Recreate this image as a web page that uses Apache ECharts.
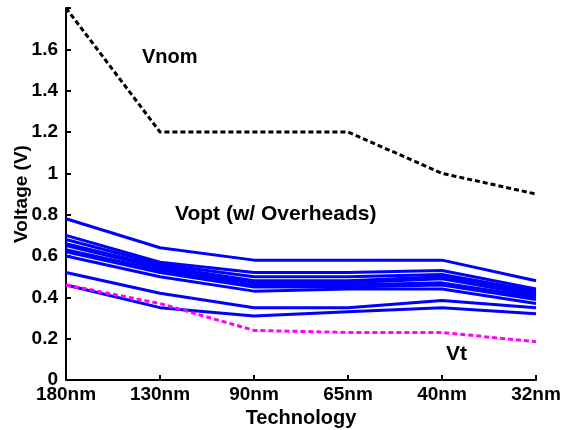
<!DOCTYPE html>
<html><head><meta charset="utf-8">
<script src="https://cdn.jsdelivr.net/npm/echarts@6/dist/echarts.min.js"></script>
<style>html,body{margin:0;padding:0;background:#fff}#c{width:564px;height:430px}</style>
</head><body><div id="c"></div>
<script>
var categories = ['180nm','130nm','90nm','65nm','40nm','32nm'];
var vnom = [1.8, 1.2, 1.2, 1.2, 1.0, 0.9];
var vt = [0.46, 0.37, 0.24, 0.23, 0.23, 0.185];
var vopt1 = [0.78, 0.64, 0.58, 0.58, 0.58, 0.48];
var vopt2 = [0.70, 0.57, 0.52, 0.52, 0.53, 0.44];
var vopt3 = [0.68, 0.56, 0.50, 0.50, 0.51, 0.43];
var vopt4 = [0.66, 0.55, 0.48, 0.48, 0.50, 0.42];
var vopt5 = [0.65, 0.54, 0.47, 0.47, 0.49, 0.41];
var vopt6 = [0.63, 0.53, 0.46, 0.46, 0.47, 0.40];
var vopt7 = [0.62, 0.52, 0.45, 0.45, 0.46, 0.39];
var vopt8 = [0.60, 0.50, 0.43, 0.44, 0.44, 0.37];
var vopt9 = [0.52, 0.42, 0.35, 0.35, 0.385, 0.35];
var vopt10 = [0.46, 0.35, 0.31, 0.33, 0.35, 0.32];
var voptAll = [vopt1, vopt2, vopt3, vopt4, vopt5, vopt6, vopt7, vopt8, vopt9, vopt10];

var font = 'Liberation Sans, Arial, sans-serif';
var chart = echarts.init(document.getElementById('c'), null, {renderer: 'canvas'});
var series = voptAll.map(function (d) {
  return {type: 'line', data: d, symbol: 'none', silent: true,
    lineStyle: {color: '#0000ff', width: 3}};
});
series.push({type: 'line', data: vnom, symbol: 'none', silent: true,
  lineStyle: {color: '#000000', width: 3, type: [5, 3]}});
series.push({type: 'line', data: vt, symbol: 'none', silent: true,
  lineStyle: {color: '#ff00ff', width: 3, type: [5, 3]}});

chart.setOption({
  animation: false,
  backgroundColor: '#fff',
  grid: {left: 66, right: 28, top: 8, bottom: 50, containLabel: false, outerBoundsMode: 'none'},
  xAxis: {
    type: 'category', data: categories, boundaryGap: false,
    name: 'Technology', nameLocation: 'middle', nameGap: 23,
    nameTextStyle: {fontFamily: font, fontWeight: 'bold', fontSize: 20, color: '#000'},
    axisLine: {lineStyle: {color: '#000', width: 2}},
    axisTick: {inside: true, length: 5, lineStyle: {color: '#000', width: 2}},
    axisLabel: {fontFamily: font, fontWeight: 'bold', fontSize: 19, color: '#000', margin: 5},
    splitLine: {show: false}
  },
  yAxis: {
    type: 'value', min: 0, max: 1.8, interval: 0.2,
    name: 'Voltage (V)', nameLocation: 'middle', nameGap: 35, nameMoveOverlap: false,
    nameTextStyle: {fontFamily: font, fontWeight: 'bold', fontSize: 19, color: '#000'},
    axisLine: {show: true, lineStyle: {color: '#000', width: 2}},
    axisTick: {show: true, inside: true, length: 5, lineStyle: {color: '#000', width: 2}},
    axisLabel: {fontFamily: font, fontWeight: 'bold', fontSize: 19, color: '#000', margin: 8,
      formatter: function (v) { if (Math.abs(v - 1.8) < 1e-6) return ''; return String(Math.round(v * 10) / 10); }},
    splitLine: {show: false}
  },
  graphic: [
    {type: 'text', left: 142, top: 47, style: {text: 'Vnom', fontFamily: font, fontWeight: 'bold', fontSize: 20, fill: '#000'}},
    {type: 'text', left: 175, top: 204, style: {text: 'Vopt (w/ Overheads)', fontFamily: font, fontWeight: 'bold', fontSize: 21, fill: '#000'}},
    {type: 'text', left: 446, top: 344, style: {text: 'Vt', fontFamily: font, fontWeight: 'bold', fontSize: 21, fill: '#000'}}
  ],
  series: series
});
</script></body></html>
